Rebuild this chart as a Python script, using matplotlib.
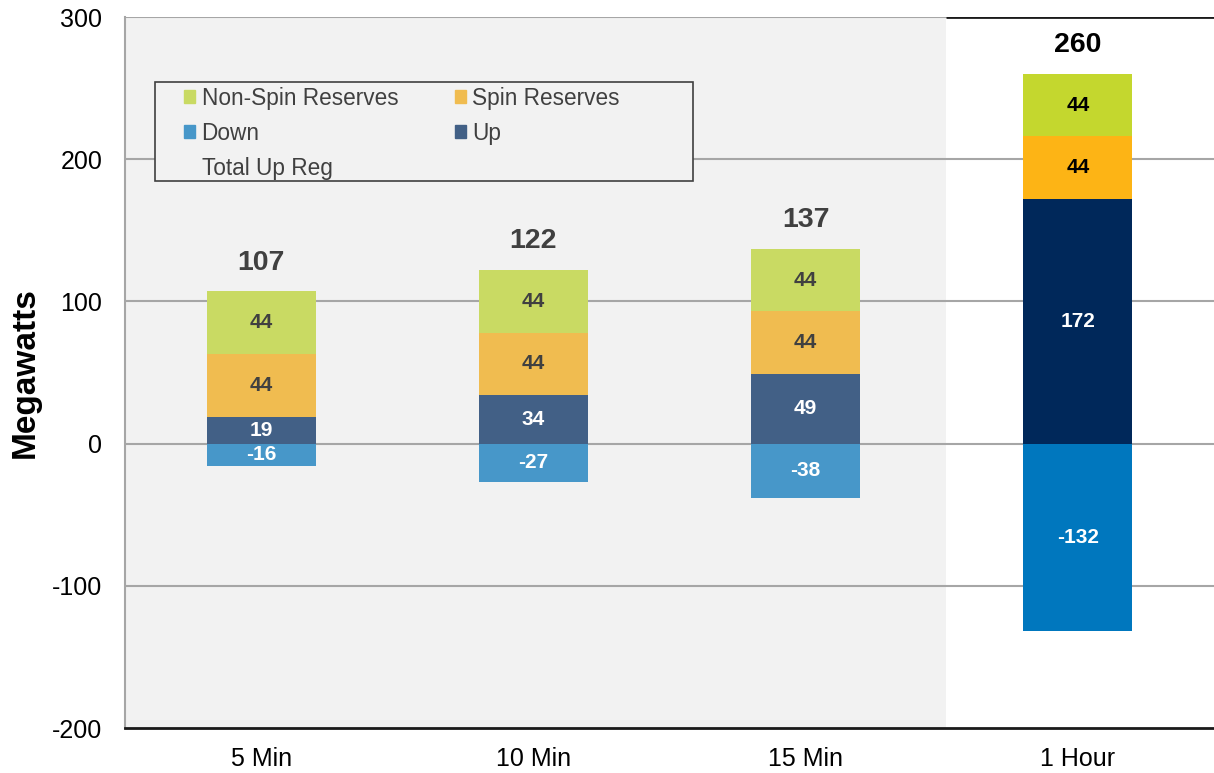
import numpy as np
import matplotlib.pyplot as plt
from matplotlib.patches import Patch, Rectangle

plt.rcParams['font.family'] = ['Liberation Sans', 'DejaVu Sans']
plt.rcParams['axes.unicode_minus'] = False

categories = ['5 Min', '10 Min', '15 Min', '1 Hour']
down = [-16, -27, -38, -132]
up = [19, 34, 49, 172]
spin = [44, 44, 44, 44]
nonspin = [44, 44, 44, 44]
totals = [107, 122, 137, 260]

# first three bars use muted colours, the hourly bar uses the strong ones
c_nonspin = ['#C9DA63'] * 3 + ['#C4D72E']
c_spin = ['#F0BC50'] * 3 + ['#FDB415']
c_up = ['#426086'] * 3 + ['#00285A']
c_down = ['#4797C9'] * 3 + ['#0077BE']
txt_dark = ['#404040'] * 3 + ['#000000']

fig = plt.figure(figsize=(12.14, 7.73), dpi=100)
ax = fig.add_axes([0.103, 0.0582, 0.897, 0.9198])

x = np.arange(len(categories))
w = 0.4

ax.axvspan(-0.5, 2.516, color='#F2F2F2', zorder=0, lw=0)
for yv in [-100, 0, 100, 200, 300]:
    ax.axhline(yv, color='#A6A6A6', lw=1.5, zorder=1)
ax.hlines(300, 2.516, 3.5, color='#1A1A1A', lw=2, zorder=2)

up_arr = np.array(up)
spin_arr = np.array(spin)
ax.bar(x, down, w, color=c_down, zorder=3)
ax.bar(x, up, w, color=c_up, zorder=3)
ax.bar(x, spin, w, bottom=up_arr, color=c_spin, zorder=3)
ax.bar(x, nonspin, w, bottom=up_arr + spin_arr, color=c_nonspin, zorder=3)

for i in range(len(categories)):
    ax.text(x[i], down[i] / 2, str(down[i]), ha='center', va='center',
            color='white', fontsize=15, fontweight='bold', zorder=4)
    ax.text(x[i], up[i] / 2, str(up[i]), ha='center', va='center',
            color='white', fontsize=15, fontweight='bold', zorder=4)
    ax.text(x[i], up[i] + spin[i] / 2, str(spin[i]), ha='center', va='center',
            color=txt_dark[i], fontsize=15, fontweight='bold', zorder=4)
    ax.text(x[i], up[i] + spin[i] + nonspin[i] / 2, str(nonspin[i]),
            ha='center', va='center', color=txt_dark[i], fontsize=15,
            fontweight='bold', zorder=4)
    ax.text(x[i], totals[i] + 11, str(totals[i]), ha='center', va='bottom',
            color=txt_dark[i], fontsize=20.5, fontweight='bold', zorder=4)

ax.set_xlim(-0.5, 3.5)
ax.set_ylim(-200, 300)
ax.set_yticks([-200, -100, 0, 100, 200, 300])
ax.set_xticks(x)
ax.set_xticklabels(categories)
ax.tick_params(axis='both', length=0, labelsize=18, colors='#000000')
ax.tick_params(axis='y', pad=16.5)
ax.tick_params(axis='x', pad=14)
ax.set_ylabel('Megawatts', fontsize=24, fontweight='bold')
ax.yaxis.set_label_coords(-0.077, 0.5)

ax.spines['top'].set_visible(False)
ax.spines['right'].set_visible(False)
ax.spines['left'].set_color('#A6A6A6')
ax.spines['left'].set_linewidth(1.5)
ax.spines['bottom'].set_color('#1A1A1A')
ax.spines['bottom'].set_linewidth(2)

# legend frame drawn by hand so it can be wider than its entries
ax.add_patch(Rectangle((0.0275, (728 - 181) / 711), 0.494, 99 / 711,
                       transform=ax.transAxes, facecolor='#F2F2F2',
                       edgecolor='#404040', lw=1.2, zorder=5))

handles = [
    Patch(color='#C9DA63', label='Non-Spin Reserves'),
    Patch(color='#4797C9', label='Down'),
    Patch(color='none', label='Total Up Reg'),
    Patch(color='#F0BC50', label='Spin Reserves'),
    Patch(color='#426086', label='Up'),
]
leg = ax.legend(handles=handles, ncol=2, loc='upper left',
                bbox_to_anchor=(0.0541, 0.9016), borderaxespad=0, borderpad=0,
                fontsize=16.3, handlelength=0.5, handleheight=0.5,
                handletextpad=0.28, labelspacing=0.52, columnspacing=2.5,
                frameon=False, labelcolor='#404040')
leg.set_zorder(6)

fig.savefig('out.png', dpi=100)
